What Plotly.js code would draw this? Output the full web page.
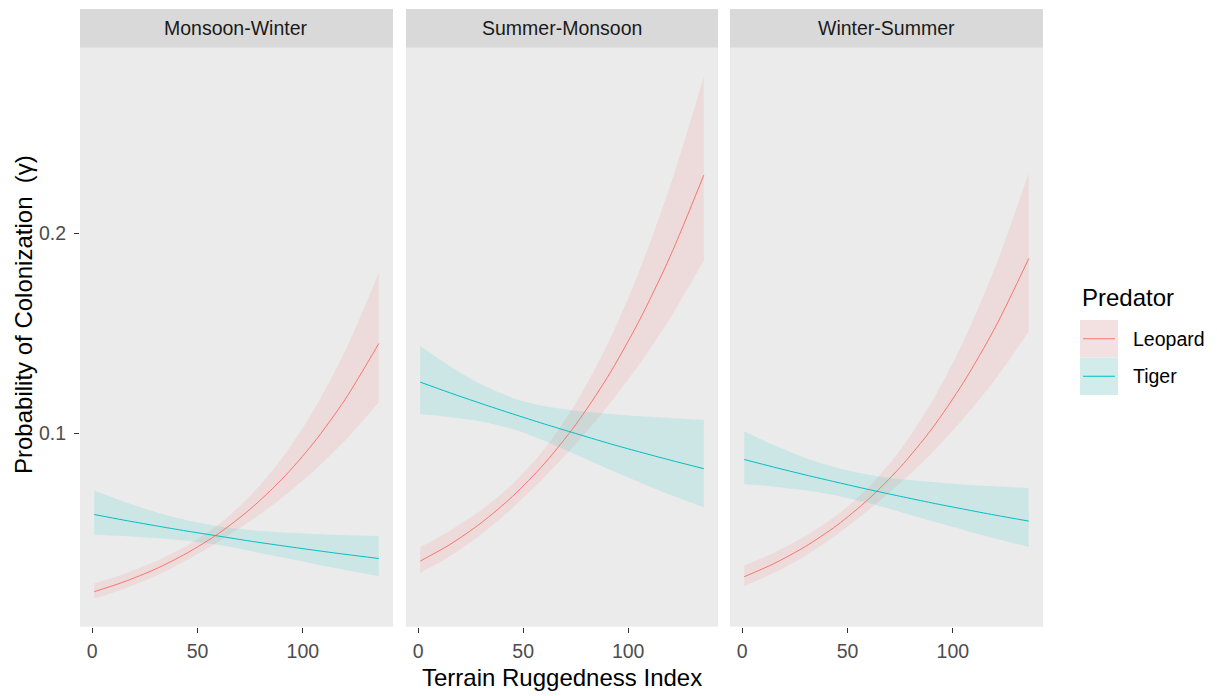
<!DOCTYPE html>
<html>
<head>
<meta charset="utf-8">
<script src="https://cdn.plot.ly/plotly-3.0.1.min.js"></script>
<style>
  html, body { margin: 0; padding: 0; background: #ffffff; }
  #chart { width: 1217px; height: 696px; }
</style>
</head>
<body>
<div id="chart"></div>
<script>
// Terrain Ruggedness Index values at which the fitted curves are evaluated
const TRI = [1, 15, 30, 45, 60, 75, 90, 105, 120, 136];

const seasons = ['Monsoon-Winter', 'Summer-Monsoon', 'Winter-Summer'];
const predators = ['Leopard', 'Tiger'];

// Monsoon-Winter: fitted colonization probability and 95% band
const mwLeopardFit = [0.0207, 0.0256, 0.0320, 0.0400, 0.0498, 0.0620, 0.0769, 0.0950, 0.1168, 0.1448];
const mwLeopardLo  = [0.0173, 0.0221, 0.0285, 0.0365, 0.0457, 0.0560, 0.0676, 0.0809, 0.0963, 0.1154];
const mwLeopardHi  = [0.0248, 0.0296, 0.0358, 0.0438, 0.0543, 0.0686, 0.0873, 0.1112, 0.1410, 0.1801];
const mwTigerFit   = [0.0593, 0.0565, 0.0537, 0.0510, 0.0485, 0.0460, 0.0437, 0.0415, 0.0394, 0.0373];
const mwTigerLo    = [0.0492, 0.0486, 0.0476, 0.0462, 0.0440, 0.0411, 0.0379, 0.0347, 0.0316, 0.0286];
const mwTigerHi    = [0.0713, 0.0658, 0.0606, 0.0564, 0.0534, 0.0515, 0.0504, 0.0496, 0.0490, 0.0485];

// Summer-Monsoon
const smLeopardFit = [0.0360, 0.0442, 0.0551, 0.0684, 0.0846, 0.1042, 0.1277, 0.1557, 0.1884, 0.2290];
const smLeopardLo  = [0.0301, 0.0383, 0.0493, 0.0626, 0.0778, 0.0945, 0.1131, 0.1340, 0.1576, 0.1863];
const smLeopardHi  = [0.0430, 0.0511, 0.0615, 0.0747, 0.0919, 0.1148, 0.1440, 0.1802, 0.2237, 0.2782];
const smTigerFit   = [0.1255, 0.1202, 0.1148, 0.1096, 0.1046, 0.0998, 0.0951, 0.0907, 0.0865, 0.0822];
const smTigerLo    = [0.1095, 0.1080, 0.1058, 0.1020, 0.0962, 0.0893, 0.0823, 0.0756, 0.0692, 0.0629];
const smTigerHi    = [0.1435, 0.1336, 0.1244, 0.1176, 0.1135, 0.1112, 0.1097, 0.1085, 0.1076, 0.1066];

// Winter-Summer
const wsLeopardFit = [0.0282, 0.0347, 0.0433, 0.0539, 0.0670, 0.0829, 0.1021, 0.1253, 0.1527, 0.1873];
const wsLeopardLo  = [0.0235, 0.0300, 0.0387, 0.0493, 0.0615, 0.0750, 0.0901, 0.1073, 0.1268, 0.1508];
const wsLeopardHi  = [0.0338, 0.0401, 0.0485, 0.0590, 0.0729, 0.0915, 0.1156, 0.1458, 0.1828, 0.2301];
const wsTigerFit   = [0.0868, 0.0830, 0.0791, 0.0754, 0.0718, 0.0684, 0.0651, 0.0620, 0.0590, 0.0560];
const wsTigerLo    = [0.0745, 0.0732, 0.0714, 0.0687, 0.0650, 0.0606, 0.0560, 0.0516, 0.0473, 0.0431];
const wsTigerHi    = [0.1009, 0.0940, 0.0876, 0.0827, 0.0792, 0.0770, 0.0755, 0.0743, 0.0734, 0.0725];

const xTicks = [0, 50, 100];
const yTicks = [0.1, 0.2];
const yTickText = ['0.1', '0.2'];

// ---- styling ----
const W = 1217, H = 696;
const FONT = 'Liberation Sans, Arial, Helvetica, sans-serif';
const lineColor = { Leopard: '#F8766D', Tiger: '#00BFC4' };
const bandColor = { Leopard: 'rgba(248,118,109,0.13)', Tiger: 'rgba(0,191,196,0.13)' };

// panel geometry in pixels
const panelX = [[80, 393], [406, 718], [730, 1043]];
const panelTop = 47.7, panelBottom = 626.7, stripTop = 9;
const px = v => v / W;
const py = v => 1 - v / H;

const series = [
  { Leopard: [mwLeopardFit, mwLeopardLo, mwLeopardHi], Tiger: [mwTigerFit, mwTigerLo, mwTigerHi] },
  { Leopard: [smLeopardFit, smLeopardLo, smLeopardHi], Tiger: [smTigerFit, smTigerLo, smTigerHi] },
  { Leopard: [wsLeopardFit, wsLeopardLo, wsLeopardHi], Tiger: [wsTigerFit, wsTigerLo, wsTigerHi] }
];

const traces = [];
series.forEach((s, i) => {
  const xa = i === 0 ? 'x' : 'x' + (i + 1);
  const ya = i === 0 ? 'y' : 'y' + (i + 1);
  // confidence bands
  predators.forEach(p => {
    const [fit, lo, hi] = s[p];
    traces.push({
      x: TRI, y: lo, xaxis: xa, yaxis: ya, type: 'scatter', mode: 'lines',
      line: { width: 0, color: 'rgba(0,0,0,0)', shape: 'spline', smoothing: 0.8 },
      hoverinfo: 'skip', showlegend: false
    });
    traces.push({
      x: TRI, y: hi, xaxis: xa, yaxis: ya, type: 'scatter', mode: 'lines',
      fill: 'tonexty', fillcolor: bandColor[p],
      line: { width: 0, color: 'rgba(0,0,0,0)', shape: 'spline', smoothing: 0.8 },
      hoverinfo: 'skip', showlegend: false
    });
  });
  // fitted lines
  predators.forEach(p => {
    const [fit] = s[p];
    traces.push({
      x: TRI, y: fit, xaxis: xa, yaxis: ya, type: 'scatter', mode: 'lines',
      name: p, line: { width: 1, color: lineColor[p], shape: 'spline', smoothing: 0.8 },
      showlegend: false
    });
  });
});

const xRange = [-5.75, 142.75];
const yRange = [0.0032, 0.2927];

const layout = {
  width: W, height: H,
  margin: { l: 0, r: 0, t: 0, b: 0 },
  paper_bgcolor: '#ffffff',
  plot_bgcolor: '#EBEBEB',
  showlegend: false,
  font: { family: FONT, color: '#4D4D4D' },
  shapes: [],
  annotations: []
};

panelX.forEach((pxr, i) => {
  const sfx = i === 0 ? '' : String(i + 1);
  layout['xaxis' + sfx] = {
    domain: [px(pxr[0]), px(pxr[1])],
    anchor: 'y' + sfx,
    range: xRange, showgrid: false, zeroline: false, showline: false,
    ticks: 'outside', ticklen: 5, tickwidth: 1.1, tickcolor: '#333333',
    tickvals: xTicks, ticktext: xTicks.map(String),
    tickfont: { family: FONT, size: 19.5, color: '#4D4D4D' },
    ticklabelstandoff: 2
  };
  layout['yaxis' + sfx] = {
    domain: [py(panelBottom), py(panelTop)],
    anchor: 'x' + sfx,
    range: yRange, showgrid: false, zeroline: false, showline: false,
    ticks: i === 0 ? 'outside' : '', ticklen: 5, tickwidth: 1.1, tickcolor: '#333333',
    tickvals: yTicks, ticktext: yTickText,
    showticklabels: i === 0,
    tickfont: { family: FONT, size: 19.5, color: '#4D4D4D' },
    ticklabelstandoff: 4
  };
  // facet strip
  layout.shapes.push({
    type: 'rect', xref: 'paper', yref: 'paper', layer: 'below',
    x0: px(pxr[0]), x1: px(pxr[1]), y0: py(panelTop), y1: py(stripTop),
    fillcolor: '#D9D9D9', line: { width: 0 }
  });
  layout.annotations.push({
    xref: 'paper', yref: 'paper', x: px((pxr[0] + pxr[1]) / 2), y: py((stripTop + panelTop) / 2),
    text: seasons[i], showarrow: false, xanchor: 'center', yanchor: 'middle',
    font: { family: FONT, size: 19.5, color: '#1A1A1A' }
  });
});

// axis titles
layout.annotations.push({
  xref: 'paper', yref: 'paper', x: px(562), y: py(677),
  text: 'Terrain Ruggedness Index', showarrow: false, xanchor: 'center', yanchor: 'middle',
  font: { family: FONT, size: 24, color: '#000000' }
});
layout.annotations.push({
  xref: 'paper', yref: 'paper', x: px(23), y: py(315),
  text: 'Probability of Colonization\u00a0\u00a0(\u03b3)', textangle: -90,
  showarrow: false, xanchor: 'center', yanchor: 'middle',
  font: { family: FONT, size: 24, color: '#000000' }
});

// legend: title, keys and labels
layout.annotations.push({
  xref: 'paper', yref: 'paper', x: px(1080), y: py(297),
  text: 'Predator', showarrow: false, xanchor: 'left', yanchor: 'middle',
  font: { family: FONT, size: 24, color: '#000000' }
});
const keyTop = [320, 357.5];
predators.forEach((p, k) => {
  const y0 = keyTop[k], y1 = keyTop[k] + 37.5;
  layout.shapes.push({
    type: 'rect', xref: 'paper', yref: 'paper',
    x0: px(1080), x1: px(1118), y0: py(y1), y1: py(y0),
    fillcolor: '#F2F2F2', line: { width: 0 }
  });
  layout.shapes.push({
    type: 'rect', xref: 'paper', yref: 'paper',
    x0: px(1080), x1: px(1118), y0: py(y1), y1: py(y0),
    fillcolor: bandColor[p], line: { width: 0 }
  });
  layout.shapes.push({
    type: 'line', xref: 'paper', yref: 'paper',
    x0: px(1083), x1: px(1115), y0: py((y0 + y1) / 2), y1: py((y0 + y1) / 2),
    line: { color: lineColor[p], width: 1 }
  });
  layout.annotations.push({
    xref: 'paper', yref: 'paper', x: px(1131), y: py((y0 + y1) / 2),
    text: p, showarrow: false, xanchor: 'left', yanchor: 'middle',
    font: { family: FONT, size: 19.5, color: '#000000' }
  });
});

Plotly.newPlot('chart', traces, layout, { displayModeBar: false, staticPlot: true });
</script>
</body>
</html>
